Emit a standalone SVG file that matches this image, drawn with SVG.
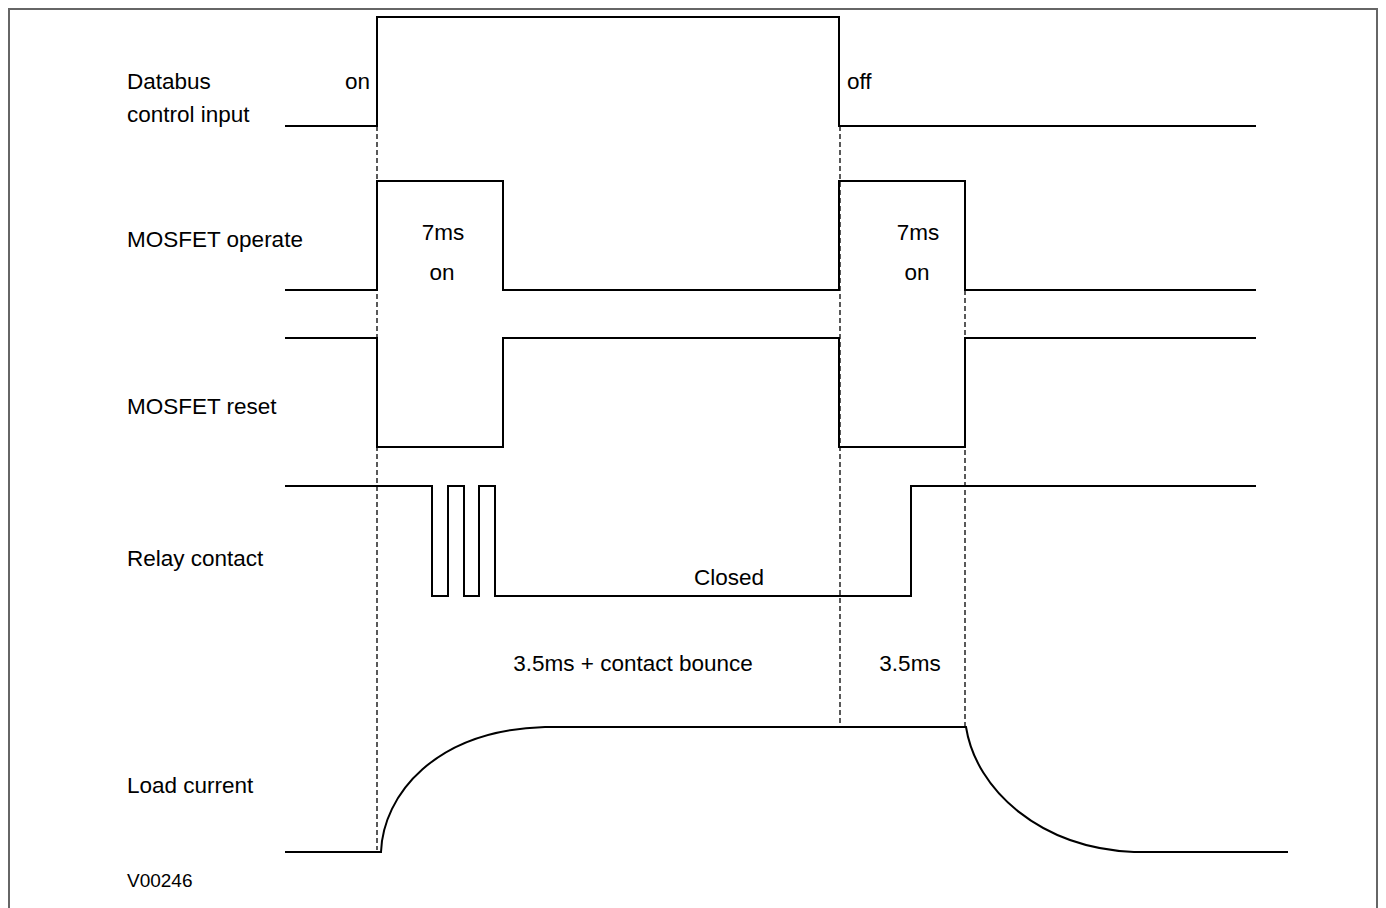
<svg xmlns="http://www.w3.org/2000/svg" width="1386" height="908" viewBox="0 0 1386 908">
<style>
.sig{fill:none;stroke:#000;stroke-width:2;stroke-linejoin:miter}
.dash{fill:none;stroke:#000;stroke-width:1.3;stroke-dasharray:5,3}
text{font-family:"Liberation Sans",Arial,sans-serif;font-size:22.5px;fill:#000}
.c{text-anchor:middle}
.small{font-size:19px}
</style>
<rect width="1386" height="908" fill="#fff"/>
<path d="M9,910 V9 H1377 V910" fill="none" stroke="#666" stroke-width="2"/>
<g id="labels">
<text x="127" y="89">Databus</text>
<text x="127" y="122">control input</text>
<text x="127" y="247">MOSFET operate</text>
<text x="127" y="414">MOSFET reset</text>
<text x="127" y="566">Relay contact</text>
<text x="127" y="793">Load current</text>
<text x="127" y="887" class="small">V00246</text>
</g>
<g id="databus">
<path class="sig" d="M285,126 H377 V17 H839 V126 H1256"/>
<text x="345" y="89">on</text>
<text x="847" y="89">off</text>
</g>
<g id="mosfet-operate">
<path class="sig" d="M285,290 H377 V181 H503 V290 H839 V181 H965 V290 H1256"/>
<text x="443" y="240" class="c">7ms</text>
<text x="442" y="280" class="c">on</text>
<text x="918" y="240" class="c">7ms</text>
<text x="917" y="280" class="c">on</text>
</g>
<g id="mosfet-reset">
<path class="sig" d="M285,338 H377 V447 H503 V338 H839 V447 H965 V338 H1256"/>
</g>
<g id="relay-contact">
<path class="sig" d="M285,486 H432 V596 H448 V486 H464 V596 H479 V486 H495 V596 H911 V486 H1256"/>
<text x="729" y="585" class="c">Closed</text>
</g>
<g id="timing">
<text x="633" y="671" class="c">3.5ms + contact bounce</text>
<text x="910" y="671" class="c">3.5ms</text>
</g>
<g id="load-current">
<path class="sig" d="M285,852 H381 C383,795 435,730 545,727 H966 C976,790 1040,848 1134,852 H1288"/>
</g>
<g id="connectors">
<line class="dash" x1="377" y1="126" x2="377" y2="850"/>
<line class="dash" x1="840" y1="126" x2="840" y2="727"/>
<line class="dash" x1="965" y1="290" x2="965" y2="727"/>
</g>
</svg>
